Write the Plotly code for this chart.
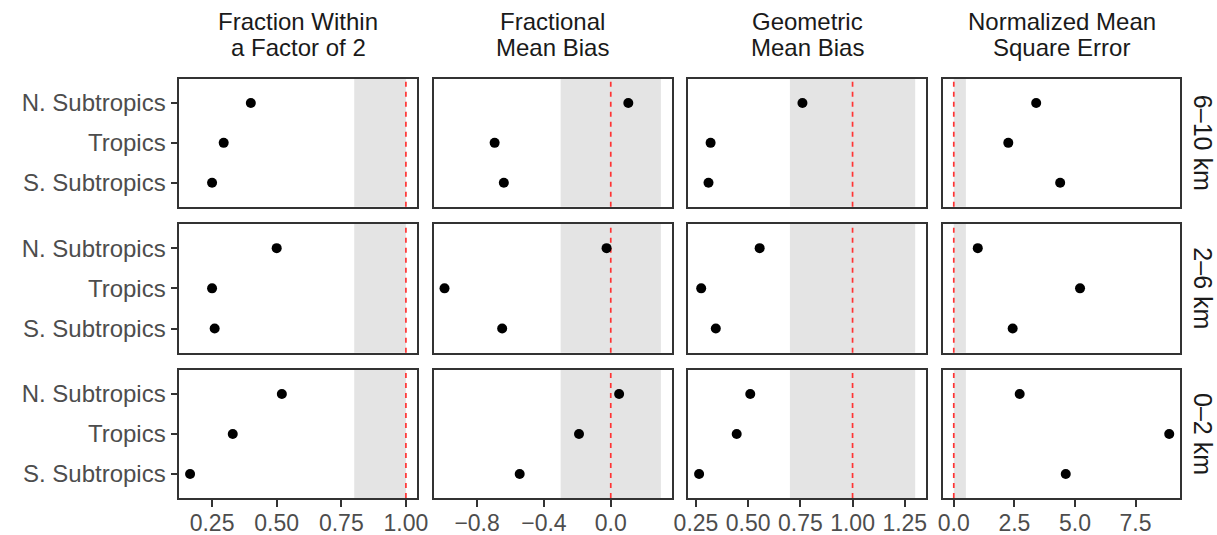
import plotly.graph_objects as go

W, H = 1217, 535

regions = ["N. Subtropics", "Tropics", "S. Subtropics"]
layers = ["6–10 km", "2–6 km", "0–2 km"]
metric_titles = [("Fraction Within", "a Factor of 2"),
                 ("Fractional", "Mean Bias"),
                 ("Geometric", "Mean Bias"),
                 ("Normalized Mean", "Square Error")]

# values per layer (rows) in order N. Subtropics, Tropics, S. Subtropics
fac2 = [[0.40, 0.295, 0.25], [0.50, 0.25, 0.26], [0.52, 0.33, 0.165]]
fb = [[0.105, -0.695, -0.64], [-0.025, -0.995, -0.65], [0.05, -0.19, -0.545]]
mg = [[0.76, 0.32, 0.31], [0.555, 0.275, 0.345], [0.51, 0.445, 0.265]]
nmse = [[3.40, 2.25, 4.39], [0.99, 5.21, 2.43], [2.72, 8.89, 4.62]]
metric_values = [fac2, fb, mg, nmse]

# acceptable band and ideal value for each metric
bands = [(0.8, 1.0), (-0.3, 0.3), (0.7, 1.3), (0.0, 0.5)]
ideal = [1.0, 0.0, 1.0, 0.0]

tick_vals = [[0.25, 0.50, 0.75, 1.00], [-0.8, -0.4, 0.0],
             [0.25, 0.50, 0.75, 1.00, 1.25], [0.0, 2.5, 5.0, 7.5]]
tick_fmt = [".2f", ".1f", ".2f", ".1f"]

# layout geometry (pixels)
col_px = [(179.3, 416.7), (433.7, 671.7), (688.3, 926.0), (943.0, 1180.0)]
row_px = [(79.0, 206.7), (224.0, 352.7), (370.0, 498.0)]

FONT = "Liberation Sans, Arial, Helvetica, sans-serif"
BORDER = "#333333"
TICKTXT = "#4d4d4d"

fig = go.Figure()
layout = dict(width=W, height=H, autosize=False, template="none",
              margin=dict(l=0, r=0, t=0, b=0, pad=0),
              paper_bgcolor="white", plot_bgcolor="white",
              showlegend=False, font=dict(family=FONT, size=24, color=TICKTXT),
              shapes=[], annotations=[])

for c in range(4):
    allv = [v for row in metric_values[c] for v in row] + list(bands[c]) + [ideal[c]]
    lo, hi = min(allv), max(allv)
    pad = 0.05 * (hi - lo)
    xr = [lo - pad, hi + pad]
    for r in range(3):
        i = r * 4 + c + 1
        xs = "x" if i == 1 else f"x{i}"
        ys = "y" if i == 1 else f"y{i}"
        xk = "xaxis" if i == 1 else f"xaxis{i}"
        yk = "yaxis" if i == 1 else f"yaxis{i}"
        fig.add_trace(go.Scatter(x=metric_values[c][r], y=regions, mode="markers",
                                 marker=dict(color="black", size=10, line=dict(width=0)),
                                 xaxis=xs, yaxis=ys, hoverinfo="skip"))
        bottom = (r == 2)
        left = (c == 0)
        layout[xk] = dict(domain=[col_px[c][0] / W, col_px[c][1] / W], anchor=ys,
                          range=xr, showgrid=False, zeroline=False, automargin=False,
                          showline=True, mirror=True, linecolor=BORDER, linewidth=1.6,
                          ticks="outside" if bottom else "", ticklen=7, tickwidth=1.6,
                          tickcolor=BORDER, showticklabels=bottom,
                          ticklabelstandoff=-3,
                          tickvals=tick_vals[c], tickformat=tick_fmt[c],
                          tickfont=dict(family=FONT, size=23, color=TICKTXT))
        layout[yk] = dict(domain=[1 - row_px[r][1] / H, 1 - row_px[r][0] / H], anchor=xs,
                          type="category", categoryorder="array",
                          categoryarray=regions[::-1], range=[-0.6, 2.6],
                          showgrid=False, zeroline=False, automargin=False,
                          showline=True, mirror=True, linecolor=BORDER, linewidth=1.6,
                          ticks="outside" if left else "", ticklen=7, tickwidth=1.6,
                          tickcolor=BORDER, showticklabels=left,
                          tickfont=dict(family=FONT, size=24, color=TICKTXT))
        layout["shapes"].append(dict(type="rect", xref=xs, yref=f"{ys} domain",
                                     x0=bands[c][0], x1=bands[c][1], y0=0, y1=1,
                                     fillcolor="#e4e4e4", line=dict(width=0), layer="below"))
        layout["shapes"].append(dict(type="line", xref=xs, yref=f"{ys} domain",
                                     x0=ideal[c], x1=ideal[c], y0=0, y1=1,
                                     line=dict(color="#ff3333", width=1.7, dash="5px,5px"),
                                     layer="below"))

# column titles (facet strips on top)
for c in range(4):
    xc = (col_px[c][0] + col_px[c][1]) / 2 / W
    for k, (line, ypx) in enumerate(zip(metric_titles[c], (21, 47.5))):
        layout["annotations"].append(dict(text=line, x=xc, y=1 - ypx / H,
                                          xref="paper", yref="paper", showarrow=False,
                                          xanchor="center", yanchor="middle",
                                          font=dict(family=FONT, size=24, color="#1a1a1a")))

# row strips on the right
for r in range(3):
    yc = 1 - (row_px[r][0] + row_px[r][1]) / 2 / H
    layout["annotations"].append(dict(text=layers[r], x=1203 / W, y=yc,
                                      xref="paper", yref="paper", showarrow=False,
                                      xanchor="center", yanchor="middle", textangle=90,
                                      font=dict(family=FONT, size=25, color="#1a1a1a")))

fig.update_layout(**layout)
fig.write_html("out.html")
